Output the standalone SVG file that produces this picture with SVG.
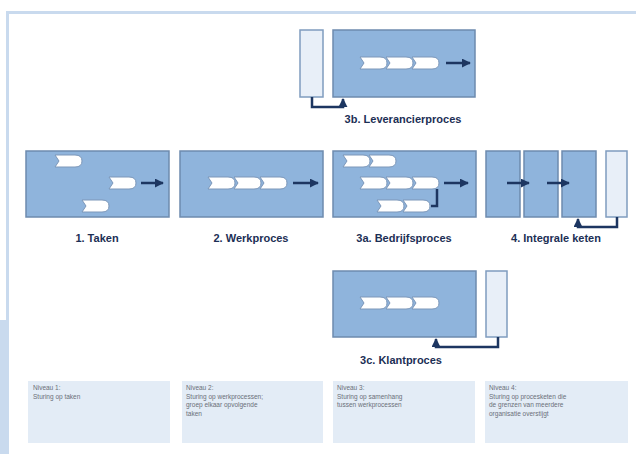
<svg xmlns="http://www.w3.org/2000/svg" width="636" height="454" viewBox="0 0 636 454">
<style>
.box{fill:#8fb4dc;stroke:#6d8bae;stroke-width:1.5}
.lt{fill:#e8eff8;stroke:#7f9cbf;stroke-width:1.5}
.ch{fill:#ffffff;stroke:#7c97b9;stroke-width:1}
.ln{fill:none;stroke:#1d3661;stroke-width:2.5}
.lbl{font-family:"Liberation Sans",Arial,sans-serif;font-size:11px;font-weight:bold;fill:#1c2f55;text-anchor:middle}
.nb{fill:#e3ecf6}
.nt{font-family:"Liberation Sans",Arial,sans-serif;font-size:6.5px;fill:#6a6f78}
.frame{fill:#c9daee}
</style>
<defs>
<path id="chev" class="ch" d="M0,-6 L20,-6 Q27,-6 27,0 Q27,6 20,6 L0,6 L4,0 Z"/>
<marker id="ah" viewBox="0 0 10 10" refX="9" refY="5" markerWidth="3.6" markerHeight="3.6" markerUnits="strokeWidth" orient="auto">
<path d="M0,0 L10,5 L0,10 Z" fill="#1d3661"/>
</marker>
</defs>

<g id="frame">
<rect class="frame" x="6" y="11" width="630" height="3"/>
<rect class="frame" x="6" y="11" width="3" height="310"/>
<rect class="frame" x="0" y="320" width="9" height="134"/>
</g>

<g id="n3b">
<rect class="lt" x="300" y="30" width="23" height="67"/>
<rect class="box" x="333" y="30" width="142" height="67"/>
<use href="#chev" x="360" y="63"/><use href="#chev" x="386" y="63"/><use href="#chev" x="412" y="63"/>
<line class="ln" x1="446" y1="63" x2="470" y2="63" marker-end="url(#ah)"/>
<text class="lbl" x="403" y="123">3b. Leverancierproces</text>
</g>

<g id="n1">
<rect class="box" x="26" y="151" width="143" height="66"/>
<use href="#chev" x="55" y="161"/><use href="#chev" x="109" y="183"/><use href="#chev" x="82" y="206"/>
<line class="ln" x1="141" y1="183" x2="163" y2="183" marker-end="url(#ah)"/>
<text class="lbl" x="97" y="242">1. Taken</text>
</g>

<g id="n2">
<rect class="box" x="180" y="151" width="143" height="66"/>
<use href="#chev" x="208" y="183"/><use href="#chev" x="234" y="183"/><use href="#chev" x="260" y="183"/>
<line class="ln" x1="293" y1="183" x2="318" y2="183" marker-end="url(#ah)"/>
<text class="lbl" x="251" y="242">2. Werkproces</text>
</g>

<g id="n3a">
<rect class="box" x="333" y="151" width="143" height="66"/>
<use href="#chev" x="343" y="161"/><use href="#chev" x="369" y="161"/>
<use href="#chev" x="360" y="183"/><use href="#chev" x="386" y="183"/><use href="#chev" x="412" y="183"/>
<use href="#chev" x="377" y="206"/><use href="#chev" x="403" y="206"/>
<line class="ln" x1="444" y1="183" x2="468" y2="183" marker-end="url(#ah)"/>
<path class="ln" d="M437,189 V206 H431"/>
<text class="lbl" x="404" y="242">3a. Bedrijfsproces</text>
</g>

<g id="n4">
<rect class="box" x="486" y="151" width="34" height="66"/>
<rect class="box" x="524" y="151" width="34" height="66"/>
<rect class="box" x="562" y="151" width="34" height="66"/>
<rect class="lt" x="606" y="151" width="21" height="66"/>
<text class="lbl" x="556" y="242">4. Integrale keten</text>
</g>

<g id="n3c">
<rect class="box" x="333" y="271" width="143" height="66"/>
<rect class="lt" x="486" y="271" width="21" height="66"/>
<use href="#chev" x="360" y="303"/><use href="#chev" x="386" y="303"/><use href="#chev" x="412" y="303"/>
<text class="lbl" x="401" y="364">3c. Klantproces</text>
</g>

<g id="connectors">
<line class="ln" x1="507" y1="183" x2="529" y2="183" marker-end="url(#ah)"/>
<line class="ln" x1="547" y1="183" x2="569" y2="183" marker-end="url(#ah)"/>
<path class="ln" d="M312,97 V107 H343 V99" marker-end="url(#ah)"/>
<path class="ln" d="M617,217 V227 H578 V219" marker-end="url(#ah)"/>
<path class="ln" d="M498,337 V347 H436 V339" marker-end="url(#ah)"/>
</g>

<g id="niv1">
<rect class="nb" x="28" y="381" width="142" height="62"/>
<text class="nt" x="33" y="390">Niveau 1:</text>
<text class="nt" x="33" y="398.5">Sturing op taken</text>
</g>
<g id="niv2">
<rect class="nb" x="182" y="381" width="141" height="62"/>
<text class="nt" x="186" y="390">Niveau 2:</text>
<text class="nt" x="186" y="398.5">Sturing op werkprocessen;</text>
<text class="nt" x="186" y="407">groep elkaar opvolgende</text>
<text class="nt" x="186" y="415.5">taken</text>
</g>
<g id="niv3">
<rect class="nb" x="333" y="381" width="142" height="62"/>
<text class="nt" x="337" y="390">Niveau 3:</text>
<text class="nt" x="337" y="398.5">Sturing op samenhang</text>
<text class="nt" x="337" y="407">tussen werkprocessen</text>
</g>
<g id="niv4">
<rect class="nb" x="485" y="381" width="143" height="62"/>
<text class="nt" x="489" y="390">Niveau 4:</text>
<text class="nt" x="489" y="398.5">Sturing op procesketen die</text>
<text class="nt" x="489" y="407">de grenzen van meerdere</text>
<text class="nt" x="489" y="415.5">organisatie overstijgt</text>
</g>
</svg>
